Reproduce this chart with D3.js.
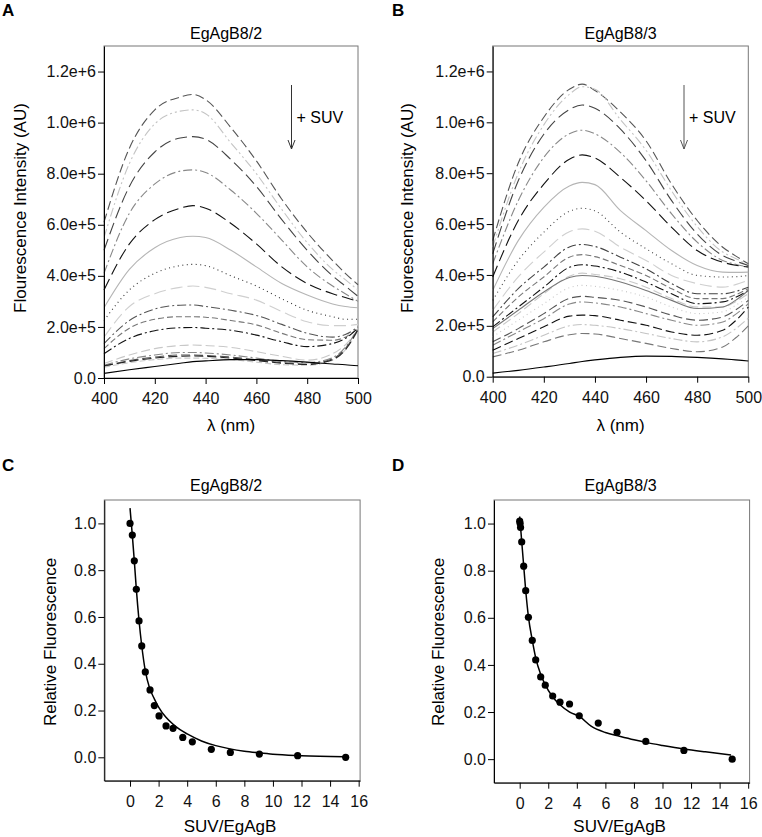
<!DOCTYPE html>
<html><head><meta charset="utf-8">
<script src="https://cdn.jsdelivr.net/npm/d3@7"></script>
<style>
html,body{margin:0;padding:0;background:#fff;}
svg{display:block;font-family:"Liberation Sans",Arial,sans-serif;}
</style></head>
<body><svg id="fig" width="762" height="837"></svg>
<script>
// ---------------- DATA ----------------
const wavelengths = [400,410,420,430,435,440,450,460,470,480,490,495,500];
const xTicksSpectra = [400,420,440,460,480,500];
const yTicksSpectra = [0,2,4,6,8,10,12];            // in units of 1e5
const yTickLabelsSpectra = ["0.0","2.0e+5","4.0e+5","6.0e+5","8.0e+5","1.0e+6","1.2e+6"];

// Panel A (EgAgB8/2) spectra, fluorescence in units of 1e5 AU
const spectraA = [
 [6.1, 9.0, 10.5, 11.0, 11.1, 10.9, 9.8, 8.5, 7.0, 5.7, 4.6, 4.1, 3.65],
 [5.5, 8.4, 9.95, 10.45, 10.5, 10.35, 9.2, 8.0, 6.6, 5.3, 4.25, 3.85, 3.45],
 [5.0, 7.5, 8.85, 9.4, 9.45, 9.35, 8.55, 7.5, 6.2, 5.0, 4.0, 3.6, 3.2],
 [4.1, 6.45, 7.6, 8.1, 8.15, 8.05, 7.35, 6.45, 5.4, 4.35, 3.6, 3.3, 3.0],
 [3.45, 5.25, 6.2, 6.65, 6.75, 6.65, 6.05, 5.25, 4.35, 3.7, 3.3, 3.15, 3.0],
 [2.75, 4.25, 5.1, 5.5, 5.55, 5.5, 5.0, 4.35, 3.7, 3.25, 2.9, 2.8, 2.75],
 [2.25, 3.45, 4.1, 4.4, 4.45, 4.4, 4.0, 3.6, 3.1, 2.65, 2.4, 2.3, 2.3],
 [1.6, 2.8, 3.3, 3.55, 3.6, 3.55, 3.3, 3.05, 2.6, 2.2, 2.05, 2.05, 2.1],
 [1.35, 2.25, 2.7, 2.85, 2.86, 2.8, 2.65, 2.45, 2.1, 1.75, 1.6, 1.7, 2.0],
 [1.15, 1.95, 2.3, 2.4, 2.4, 2.38, 2.25, 2.08, 1.75, 1.5, 1.48, 1.6, 1.95],
 [0.95, 1.55, 1.85, 1.97, 1.98, 1.95, 1.87, 1.68, 1.42, 1.23, 1.35, 1.55, 1.95],
 [0.57, 0.9, 1.15, 1.27, 1.29, 1.27, 1.2, 1.03, 0.85, 0.7, 0.95, 1.3, 1.9],
 [0.5, 0.75, 0.9, 1.0, 1.0, 0.98, 0.9, 0.78, 0.65, 0.6, 0.8, 1.2, 1.95],
 [0.45, 0.68, 0.82, 0.9, 0.9, 0.88, 0.82, 0.72, 0.6, 0.55, 0.75, 1.15, 1.9],
 [0.42, 0.6, 0.72, 0.78, 0.78, 0.77, 0.72, 0.62, 0.52, 0.5, 0.7, 1.1, 1.85],
 [0.48, 0.65, 0.78, 0.85, 0.86, 0.85, 0.78, 0.68, 0.58, 0.53, 0.72, 1.1, 1.9],
 [0.18, 0.32, 0.45, 0.58, 0.64, 0.67, 0.72, 0.72, 0.68, 0.62, 0.55, 0.52, 0.48]
];

// Panel B (EgAgB8/3) spectra, units of 1e5 AU
const spectraB = [
 [5.35, 8.4, 10.2, 11.3, 11.5, 11.25, 10.4, 9.27, 7.57, 6.14, 5.09, 4.75, 4.44],
 [5.1, 8.0, 9.9, 11.1, 11.4, 11.3, 10.1, 8.9, 7.3, 5.9, 4.9, 4.65, 4.4],
 [4.83, 7.7, 9.53, 10.5, 10.68, 10.55, 9.73, 8.49, 6.92, 5.61, 4.76, 4.55, 4.37],
 [4.44, 6.92, 8.62, 9.55, 9.69, 9.55, 8.81, 7.7, 6.4, 5.29, 4.57, 4.42, 4.31],
 [3.92, 6.14, 7.57, 8.55, 8.72, 8.6, 7.83, 6.92, 5.87, 4.96, 4.5, 4.38, 4.31],
 [3.39, 5.35, 6.66, 7.5, 7.64, 7.55, 6.53, 5.74, 4.96, 4.37, 4.11, 4.1, 4.11],
 [3.0, 4.57, 5.68, 6.5, 6.62, 6.52, 5.68, 5.03, 4.44, 3.98, 3.92, 3.93, 3.98],
 [2.61, 3.92, 4.9, 5.7, 5.81, 5.72, 5.09, 4.57, 3.98, 3.66, 3.52, 3.62, 3.79],
 [2.35, 3.46, 4.31, 5.1, 5.2, 5.12, 4.7, 4.24, 3.66, 3.26, 3.26, 3.35, 3.52],
 [2.15, 3.13, 3.92, 4.7, 4.8, 4.72, 4.37, 3.98, 3.46, 3.07, 3.07, 3.22, 3.46],
 [1.96, 2.74, 3.52, 4.3, 4.4, 4.35, 4.11, 3.72, 3.26, 2.87, 2.94, 3.12, 3.39],
 [1.76, 2.48, 3.26, 3.95, 4.07, 4.02, 3.85, 3.52, 3.07, 2.74, 2.74, 2.95, 3.26],
 [1.89, 2.61, 3.33, 3.9, 3.98, 3.95, 3.72, 3.39, 3.0, 2.68, 2.74, 3.0, 3.39],
 [1.57, 2.22, 2.87, 3.5, 3.59, 3.55, 3.39, 3.13, 2.74, 2.48, 2.55, 2.8, 3.13],
 [1.37, 1.89, 2.48, 3.08, 3.16, 3.12, 3.0, 2.74, 2.42, 2.22, 2.35, 2.62, 3.0],
 [1.24, 1.76, 2.28, 2.86, 2.94, 2.9, 2.74, 2.48, 2.22, 2.02, 2.15, 2.45, 2.87],
 [1.04, 1.5, 1.96, 2.38, 2.42, 2.4, 2.22, 2.02, 1.76, 1.63, 1.83, 2.2, 2.74],
 [0.91, 1.24, 1.63, 2.0, 2.05, 2.02, 1.89, 1.7, 1.5, 1.37, 1.57, 1.88, 2.3],
 [0.78, 1.04, 1.37, 1.65, 1.7, 1.68, 1.5, 1.31, 1.11, 0.98, 1.17, 1.52, 2.0],
 [0.14, 0.25, 0.38, 0.52, 0.6, 0.66, 0.76, 0.81, 0.8, 0.76, 0.7, 0.66, 0.62]
];

// Panel C (EgAgB8/2) titration
const ratioC  = [0, 0.16, 0.30, 0.44, 0.63, 0.82, 1.07, 1.40, 1.70, 2.03, 2.52, 3.01, 3.69, 4.36, 5.69, 7.02, 9.05, 11.73, 15.09];
const relFluC = [1.0, 0.95, 0.84, 0.718, 0.583, 0.476, 0.365, 0.288, 0.221, 0.177, 0.134, 0.124, 0.085, 0.066, 0.034, 0.021, 0.014, 0.007, 0.0];
const fitXC = [0, 0.16, 0.3, 0.44, 0.63, 0.82, 1.07, 1.35, 1.7, 2.0, 2.5, 3.0, 3.5, 4.0, 5.0, 6.0, 7.0, 8.0, 9.0, 10, 12, 15];
const fitYC = [1.065, 0.95, 0.84, 0.72, 0.585, 0.477, 0.37, 0.30, 0.25, 0.215, 0.172, 0.142, 0.118, 0.10, 0.07, 0.05, 0.036, 0.026, 0.019, 0.013, 0.007, 0.002];

// Panel D (EgAgB8/3) titration
const ratioD  = [0, 0.03, 0.06, 0.14, 0.28, 0.42, 0.61, 0.88, 1.12, 1.47, 1.79, 2.31, 2.82, 3.49, 4.17, 5.50, 6.82, 8.83, 11.5, 14.88];
const relFluD = [1.01, 1.0, 0.983, 0.922, 0.819, 0.715, 0.602, 0.504, 0.421, 0.349, 0.314, 0.268, 0.242, 0.234, 0.184, 0.153, 0.114, 0.075, 0.037, 0.0];
const fitXD = [0, 0.14, 0.28, 0.42, 0.61, 0.88, 1.12, 1.47, 1.79, 2.3, 2.8, 3.5, 4.2, 5.0, 6.0, 7.0, 8.0, 9.0, 10, 11.5, 13, 14.8];
const fitYD = [1.03, 0.925, 0.82, 0.717, 0.605, 0.505, 0.43, 0.36, 0.315, 0.265, 0.232, 0.2, 0.18, 0.14, 0.113, 0.097, 0.082, 0.069, 0.058, 0.043, 0.031, 0.018];

const xTicksTitr = [0,2,4,6,8,10,12,14,16];
const yTicksTitr = [0,0.2,0.4,0.6,0.8,1.0];
const yTickLabelsTitr = ["0.0","0.2","0.4","0.6","0.8","1.0"];

// ---------------- STYLES ----------------
const DASH="9,4", LDASH="12,5", SDASH="6,3", DDOT="9,3,2,3", DDOT2="9,3,2,3,2,3", DOT="1,3.5";
const stylesA = [
 ["#555",DASH],["#c4c4c4",DDOT2],["#444",LDASH],["#888",DDOT],["#111",LDASH],
 ["#b5b5b5",null],["#333",DOT],["#cfcfcf",LDASH],["#555",DDOT],["#777",SDASH],
 ["#111",DDOT],["#c8c8c8",DASH],["#888",DDOT],["#555",DASH],["#c8c8c8",SDASH],
 ["#222",DASH],["#000",null]
];
const stylesB = [
 ["#555",DASH],["#c4c4c4",DDOT2],["#444",LDASH],["#888",DDOT],["#111",LDASH],
 ["#b5b5b5",null],["#444",DOT],["#cfcfcf",LDASH],["#444",DDOT],["#777",SDASH],
 ["#111",DDOT],["#c8c8c8",DASH],["#777",null],["#c8c8c8",DOT],["#555",DASH],
 ["#888",DDOT],["#111",DASH],["#c4c4c4",DDOT],["#777",DASH],["#000",null]
];

const FONT = '"Liberation Sans",Arial,sans-serif';
const TICKFS = 16, TITLEFS = 16, LABELFS = 17;
const svg = d3.select("#fig");

function frame(g, x0, y0, x1, y1){
  g.append("rect").attr("x",x0).attr("y",y0).attr("width",x1-x0).attr("height",y1-y0)
   .attr("fill","none").attr("stroke","#777").attr("stroke-width",1);
}
function styleAxis(ax, fs){
  ax.selectAll("path.domain").attr("stroke","#000").attr("stroke-width",1);
  ax.selectAll(".tick line").attr("stroke","#000");
  ax.selectAll(".tick text").attr("font-size",fs).attr("font-family",FONT).attr("fill","#111");
}

function spectraPanel(opt){
  const g = svg.append("g");
  const x = d3.scaleLinear().domain([400,500]).range([opt.x0, opt.x1]);
  const y = d3.scaleLinear().domain([0,13]).range([opt.yb, opt.yt]);
  frame(g, opt.x0, opt.yt, opt.x1, opt.yb);
  const line = d3.line().x((d,i)=>x(wavelengths[i])).y(d=>y(d)).curve(d3.curveMonotoneX);
  g.selectAll("path.spec").data(opt.data).enter().append("path").attr("class","spec")
    .attr("d", d=>line(d)).attr("fill","none")
    .attr("stroke",(d,i)=>opt.styles[i][0])
    .attr("stroke-dasharray",(d,i)=>opt.styles[i][1])
    .attr("stroke-width",1.1);
  const ay = g.append("g").attr("transform",`translate(${opt.x0},0)`)
    .call(d3.axisLeft(y).tickValues(yTicksSpectra).tickSize(6).tickSizeOuter(0).tickPadding(2)
      .tickFormat((d,i)=>yTickLabelsSpectra[i]));
  styleAxis(ay, TICKFS);
  const ax = g.append("g").attr("transform",`translate(0,${opt.yb})`)
    .call(d3.axisBottom(x).tickValues(xTicksSpectra).tickSize(6).tickSizeOuter(0).tickPadding(9));
  styleAxis(ax, TICKFS);
  g.append("text").attr("x",opt.tx).attr("y",39).attr("text-anchor","middle")
    .attr("font-size",TITLEFS).attr("font-family",FONT).text(opt.title);
  g.append("text").attr("x",(opt.x0+opt.x1)/2).attr("y",431).attr("text-anchor","middle")
    .attr("font-size",LABELFS).attr("font-family",FONT).text("λ (nm)");
  g.append("text").attr("transform",`translate(${opt.ylx},208) rotate(-90)`)
    .attr("text-anchor","middle").attr("dy","0.35em")
    .attr("font-size",LABELFS).attr("font-family",FONT).text(opt.ylabel);
  g.append("line").attr("x1",opt.ax).attr("x2",opt.ax).attr("y1",85).attr("y2",149)
    .attr("stroke",opt.acol).attr("stroke-width",1);
  g.append("path").attr("d",`M${opt.ax-3.5},${140} L${opt.ax},${149} L${opt.ax+3.5},${140}`)
    .attr("fill","none").attr("stroke",opt.acol).attr("stroke-width",1);
  g.append("text").attr("x",opt.ax+5).attr("y",123).attr("font-size",16)
    .attr("font-family",FONT).text("+ SUV");
  g.append("text").attr("x",opt.lx).attr("y",16).attr("font-size",17).attr("font-weight","bold")
    .attr("font-family",FONT).text(opt.letter);
}

spectraPanel({x0:104,x1:358,yt:46,yb:378,data:spectraA,styles:stylesA,title:"EgAgB8/2",tx:226,
  ylabel:"Flourescence Intensity (AU)",ylx:20,ax:291.5,acol:"#333",letter:"A",lx:2});
spectraPanel({x0:492.7,x1:748.3,yt:46,yb:376.7,data:spectraB,styles:stylesB,title:"EgAgB8/3",tx:620.5,
  ylabel:"Fluorescence Intensity (AU)",ylx:407,ax:684,acol:"#555",letter:"B",lx:392});

function titrPanel(opt){
  const g = svg.append("g");
  const x = d3.scaleLinear().domain([-1.8,16.1]).range([opt.x0, opt.x1]);
  const y = d3.scaleLinear().domain([-0.1,1.1]).range([opt.yb, opt.yt]);
  frame(g, opt.x0, opt.yt, opt.x1, opt.yb);
  const line = d3.line().x((d,i)=>x(opt.fx[i])).y(d=>y(d)).curve(d3.curveMonotoneX);
  g.append("path").attr("d",line(opt.fy)).attr("fill","none").attr("stroke","#000").attr("stroke-width",1.5);
  g.selectAll("circle").data(opt.py).enter().append("circle")
    .attr("cx",(d,i)=>x(opt.px[i])).attr("cy",d=>y(d)).attr("r",3.6).attr("fill","#000");
  const ay = g.append("g").attr("transform",`translate(${opt.x0},0)`)
    .call(d3.axisLeft(y).tickValues(yTicksTitr).tickSize(6).tickSizeOuter(0).tickPadding(2)
      .tickFormat((d,i)=>yTickLabelsTitr[i]));
  styleAxis(ay, TICKFS);
  const ax = g.append("g").attr("transform",`translate(0,${opt.yb})`)
    .call(d3.axisBottom(x).tickValues(xTicksTitr).tickSize(6).tickSizeOuter(0).tickPadding(9));
  styleAxis(ax, TICKFS);
  g.append("text").attr("x",opt.tx).attr("y",491).attr("text-anchor","middle")
    .attr("font-size",TITLEFS).attr("font-family",FONT).text(opt.title);
  g.append("text").attr("x",x(7)).attr("y",832).attr("text-anchor","middle")
    .attr("font-size",LABELFS).attr("font-family",FONT).text("SUV/EgAgB");
  g.append("text").attr("transform",`translate(${opt.ylx},642) rotate(-90)`)
    .attr("text-anchor","middle").attr("dy","0.35em")
    .attr("font-size",LABELFS).attr("font-family",FONT).text("Relative Fluorescence");
  g.append("text").attr("x",opt.lx).attr("y",471).attr("font-size",17).attr("font-weight","bold")
    .attr("font-family",FONT).text(opt.letter);
}

titrPanel({x0:104.3,x1:360.1,yt:500,yb:780.7,px:ratioC,py:relFluC,fx:fitXC,fy:fitYC,
  title:"EgAgB8/2",tx:226,ylx:50,letter:"C",lx:2});
titrPanel({x0:494,x1:749.6,yt:500,yb:782.7,px:ratioD,py:relFluD,fx:fitXD,fy:fitYD,
  title:"EgAgB8/3",tx:620.5,ylx:438,letter:"D",lx:392});
</script>
</body></html>
